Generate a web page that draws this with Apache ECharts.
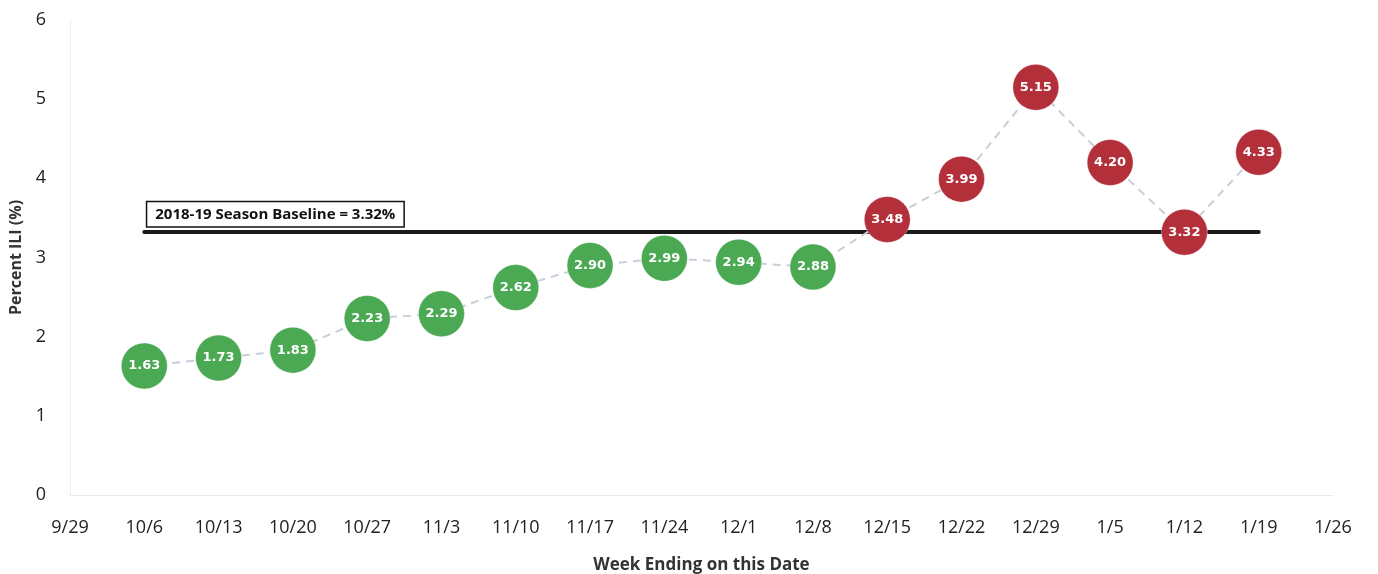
<!DOCTYPE html>
<html>
<head>
<meta charset="utf-8">
<script src="https://cdn.jsdelivr.net/npm/echarts@6/dist/echarts.min.js"></script>
<style>html,body{margin:0;padding:0;background:#fff;}#c{width:1378px;height:574px;}</style>
</head>
<body>
<div id="c"></div>
<script>
var categories = ['9/29','10/6','10/13','10/20','10/27','11/3','11/10','11/17','11/24','12/1','12/8','12/15','12/22','12/29','1/5','1/12','1/19','1/26'];
var iliValues = [null,1.63,1.73,1.83,2.23,2.29,2.62,2.90,2.99,2.94,2.88,3.48,3.99,5.15,4.20,3.32,4.33,null];
var baselineValue = 3.32;
var baselineLabel = '2018-19 Season Baseline = 3.32%';
var baselineStart = '10/6', baselineEnd = '1/19';
var yTicks = [0,1,2,3,4,5,6];

var GREEN = '#4aa952', RED = '#b3303b';
var chart = echarts.init(document.getElementById('c'));
chart.setOption({
  animation: false,
  backgroundColor: '#ffffff',
  grid: {left: 70, right: 45, top: 20, bottom: 79, containLabel: false, outerBoundsMode: 'none'},
  xAxis: {
    type: 'category', data: categories, boundaryGap: false,
    name: 'Week Ending on this Date', nameLocation: 'middle', nameGap: 62,
    nameTextStyle: {fontFamily: 'Open Sans', fontWeight: 'bold', fontSize: 17, color: '#333'},
    axisLine: {lineStyle: {color: '#e6e6e6', type: 'dotted', width: 1}},
    axisTick: {show: false},
    axisLabel: {fontFamily: 'Open Sans', fontSize: 18, color: '#222', margin: 24, interval: 0},
    splitLine: {show: false}
  },
  yAxis: {
    type: 'value', min: yTicks[0], max: yTicks[yTicks.length-1], interval: 1,
    name: 'Percent ILI (%)', nameLocation: 'middle', nameGap: 45,
    nameTextStyle: {fontFamily: 'Open Sans', fontWeight: 'bold', fontSize: 16, color: '#333'},
    axisLine: {show: true, lineStyle: {color: '#ececec', type: 'dotted'}},
    axisTick: {show: false},
    axisLabel: {fontFamily: 'Open Sans', fontSize: 18, color: '#222', margin: 24},
    splitLine: {show: false}
  },
  series: [
    {
      type: 'line', name: 'baseline', z: 2,
      data: [],
      markLine: {
        silent: true, symbol: 'none', z: 2,
        lineStyle: {color: '#1a1a1a', width: 4, type: 'solid', cap: 'round'},
        data: [[{coord: [baselineStart, baselineValue]}, {coord: [baselineEnd, baselineValue]}]],
        label: {
          show: true, position: 'insideStartTop', formatter: baselineLabel,
          fontFamily: 'Open Sans', fontWeight: 'bold', fontSize: 15, color: '#111',
          backgroundColor: '#fff', borderColor: '#111', borderWidth: 1.5,
          padding: [5, 8, 4, 8], distance: [3, 6]
        }
      }
    },
    {
      type: 'line', name: 'ILI', z: 3,
      data: iliValues,
      symbol: 'circle', symbolSize: 46,
      lineStyle: {color: '#c7cfdb', width: 2, type: [8, 6]},
      itemStyle: {
        color: function(p){ return p.value >= baselineValue ? RED : GREEN; },
        borderColor: 'rgba(255,255,255,0.35)', borderWidth: 1
      },
      label: {
        show: true, position: 'inside',
        formatter: function(p){ return p.value.toFixed(2); },
        fontFamily: 'DejaVu Sans', fontWeight: 'bold', fontSize: 13, color: '#fff'
      }
    }
  ]
});
</script>
</body>
</html>
